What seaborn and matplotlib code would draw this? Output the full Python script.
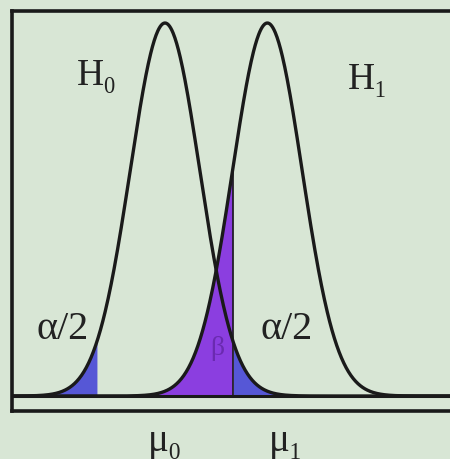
import numpy as np
import seaborn as sns
import matplotlib.pyplot as plt
import pandas as pd

# parametros de las dos hipotesis
mu0 = 0.0
mu1 = 2.95
sigma = 1.0
z_crit = 1.96
names = ["H₀", "H₁"]

bg = "#d8e6d5"
purple = "#8b3ee0"
blue = "#5657d6"

sns.set_style("white")
plt.rcParams['font.family'] = ['Liberation Serif', 'DejaVu Serif']

x = np.linspace(-4.6, 9.0, 800)


def curva(m):
    # curva normal sin normalizar, pico en 1
    return np.exp(-0.5 * ((x - m) / sigma) ** 2)


df = pd.DataFrame({"x": np.concatenate([x, x]),
                   "y": np.concatenate([curva(mu0), curva(mu1)]),
                   "h": np.repeat(names, len(x))})

fig = plt.figure(figsize=(4.5, 4.6), dpi=100, facecolor=bg)
ax = fig.add_axes([12 / 450, 48 / 460, 459 / 450, 400 / 460])
ax.set_facecolor(bg)

y0 = curva(mu0)
y1 = curva(mu1)
lo = mu0 - z_crit * sigma
hi = mu0 + z_crit * sigma

# zonas sombreadas
ax.fill_between(x, 0, y0, where=x <= lo, color=blue, lw=0)
ax.fill_between(x, 0, y0, where=x >= hi, color=blue, lw=0)
ax.fill_between(x, 0, y1, where=x <= hi, color=purple, lw=0)

sns.lineplot(data=df, x="x", y="y", units="h", estimator=None,
             color="#1a1a1a", lw=2.4, ax=ax, legend=False)
ax.axhline(0, color="#1a1a1a", lw=2.2)
ax.plot([hi, hi], [0, np.exp(-0.5 * ((hi - mu1) / sigma) ** 2)], color="#1a1a1a", lw=1.2)

ppu = 34.7
ax.set_xlim(-153 / ppu, -153 / ppu + 459 / ppu)
ax.set_ylim(-15 / 373, 1 + 12 / 373)
for s in ax.spines.values():
    s.set_color("#1a1a1a")
    s.set_linewidth(2.6)
ax.set_xticks([])
ax.set_yticks([])
ax.set_xlabel("")
ax.set_ylabel("")

ax.text(-1.95, 0.86, names[0], fontsize=27, ha="center", va="center", color="#222222")
ax.text(5.85, 0.85, names[1], fontsize=27, ha="center", va="center", color="#222222")
ax.text(-2.95, 0.18, "α/2", fontsize=29, ha="center", va="center", color="#222222")
ax.text(3.5, 0.18, "α/2", fontsize=29, ha="center", va="center", color="#222222")
ax.text(1.5, 0.13, "β", fontsize=20, ha="center", va="center", color="#6a2ab0")
ax.text(mu0, -0.12, "μ₀", fontsize=28, ha="center", va="center", color="#222222", clip_on=False)
ax.text(3.5, -0.12, "μ₁", fontsize=28, ha="center", va="center", color="#222222", clip_on=False)

plt.savefig("out.png", dpi=100, facecolor=bg)
